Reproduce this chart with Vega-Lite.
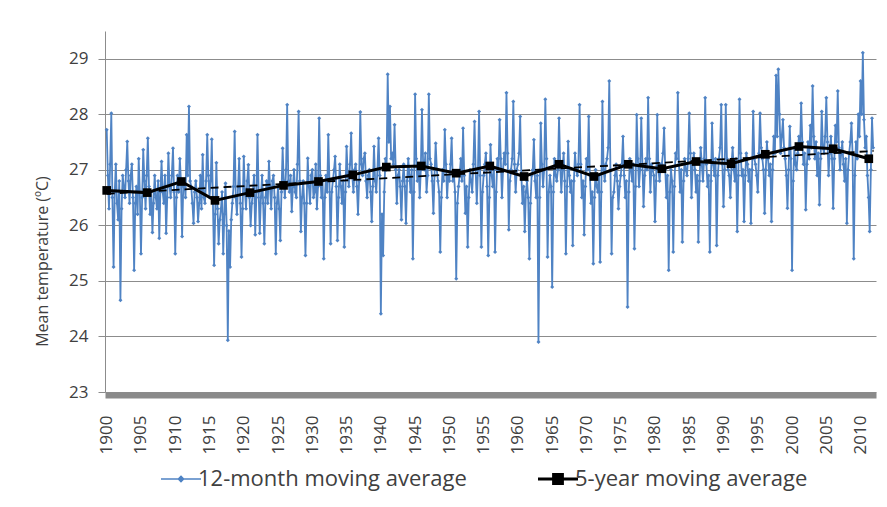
{
"$schema": "https://vega.github.io/schema/vega-lite/v6.json",
"width": 771, "height": 361,
"autosize": {"type": "none"},
"padding": {"left": 105, "top": 31, "right": 11, "bottom": 115},
"background": "white",
"config": {"view": {"stroke": null}, "font": "Open Sans", "axisX": {"labelOverlap": false}},
"datasets": {
"m": [
{"t":1900,"v":27.72},{"t":1900.17,"v":26.9},{"t":1900.33,"v":26.3},{"t":1900.5,"v":27.1},{"t":1900.67,"v":28.02},{"t":1900.83,"v":26.5},
{"t":1901,"v":25.25},{"t":1901.17,"v":26.6},{"t":1901.33,"v":27.1},{"t":1901.5,"v":26.4},{"t":1901.67,"v":26.1},{"t":1901.83,"v":26.8},
{"t":1902,"v":24.65},{"t":1902.17,"v":26.3},{"t":1902.33,"v":26.9},{"t":1902.5,"v":26.7},{"t":1902.67,"v":26.5},{"t":1902.83,"v":27.0},
{"t":1903,"v":27.51},{"t":1903.17,"v":26.8},{"t":1903.33,"v":26.4},{"t":1903.5,"v":26.9},{"t":1903.67,"v":27.1},{"t":1903.83,"v":26.5},
{"t":1904,"v":25.19},{"t":1904.17,"v":26.4},{"t":1904.33,"v":26.7},{"t":1904.5,"v":26.2},{"t":1904.67,"v":27.2},{"t":1904.83,"v":26.6},
{"t":1905,"v":25.49},{"t":1905.17,"v":26.5},{"t":1905.33,"v":27.36},{"t":1905.5,"v":26.8},{"t":1905.67,"v":26.3},{"t":1905.83,"v":26.9},
{"t":1906,"v":27.57},{"t":1906.17,"v":26.7},{"t":1906.33,"v":26.2},{"t":1906.5,"v":26.6},{"t":1906.67,"v":25.87},{"t":1906.83,"v":26.4},
{"t":1907,"v":26.9},{"t":1907.17,"v":26.5},{"t":1907.33,"v":26.3},{"t":1907.5,"v":26.8},{"t":1907.67,"v":25.77},{"t":1907.83,"v":26.6},
{"t":1908,"v":27.15},{"t":1908.17,"v":26.6},{"t":1908.33,"v":26.4},{"t":1908.5,"v":26.9},{"t":1908.67,"v":25.86},{"t":1908.83,"v":26.5},
{"t":1909,"v":27.3},{"t":1909.17,"v":26.7},{"t":1909.33,"v":26.5},{"t":1909.5,"v":26.9},{"t":1909.67,"v":27.39},{"t":1909.83,"v":26.6},
{"t":1910,"v":25.49},{"t":1910.17,"v":26.5},{"t":1910.33,"v":26.9},{"t":1910.5,"v":26.6},{"t":1910.67,"v":27.2},{"t":1910.83,"v":26.8},
{"t":1911,"v":25.8},{"t":1911.17,"v":26.7},{"t":1911.33,"v":26.8},{"t":1911.5,"v":26.5},{"t":1911.67,"v":27.63},{"t":1911.83,"v":26.9},
{"t":1912,"v":28.14},{"t":1912.17,"v":26.8},{"t":1912.33,"v":26.7},{"t":1912.5,"v":26.4},{"t":1912.67,"v":26.04},{"t":1912.83,"v":26.6},
{"t":1913,"v":26.8},{"t":1913.17,"v":26.5},{"t":1913.33,"v":26.07},{"t":1913.5,"v":26.4},{"t":1913.67,"v":26.9},{"t":1913.83,"v":26.3},
{"t":1914,"v":27.27},{"t":1914.17,"v":26.5},{"t":1914.33,"v":26.4},{"t":1914.5,"v":26.8},{"t":1914.67,"v":27.63},{"t":1914.83,"v":26.9},
{"t":1915,"v":26.5},{"t":1915.17,"v":26.8},{"t":1915.33,"v":27.55},{"t":1915.5,"v":26.4},{"t":1915.67,"v":25.28},{"t":1915.83,"v":26.2},
{"t":1916,"v":27.13},{"t":1916.17,"v":26.3},{"t":1916.33,"v":25.67},{"t":1916.5,"v":26.1},{"t":1916.67,"v":26.3},{"t":1916.83,"v":26.6},
{"t":1917,"v":25.49},{"t":1917.17,"v":26.2},{"t":1917.33,"v":26.76},{"t":1917.5,"v":26.0},{"t":1917.67,"v":23.93},{"t":1917.83,"v":25.9},
{"t":1918,"v":25.25},{"t":1918.17,"v":26.1},{"t":1918.33,"v":26.4},{"t":1918.5,"v":26.7},{"t":1918.67,"v":27.69},{"t":1918.83,"v":26.5},
{"t":1919,"v":26.2},{"t":1919.17,"v":26.7},{"t":1919.33,"v":27.2},{"t":1919.5,"v":26.4},{"t":1919.67,"v":25.43},{"t":1919.83,"v":26.3},
{"t":1920,"v":27.24},{"t":1920.17,"v":26.6},{"t":1920.33,"v":26.3},{"t":1920.5,"v":26.8},{"t":1920.67,"v":27.09},{"t":1920.83,"v":26.5},
{"t":1921,"v":26.0},{"t":1921.17,"v":26.4},{"t":1921.33,"v":26.6},{"t":1921.5,"v":26.9},{"t":1921.67,"v":25.83},{"t":1921.83,"v":26.5},
{"t":1922,"v":27.63},{"t":1922.17,"v":26.6},{"t":1922.33,"v":25.86},{"t":1922.5,"v":26.5},{"t":1922.67,"v":26.9},{"t":1922.83,"v":26.4},
{"t":1923,"v":25.67},{"t":1923.17,"v":26.5},{"t":1923.33,"v":26.8},{"t":1923.5,"v":26.4},{"t":1923.67,"v":27.15},{"t":1923.83,"v":26.7},
{"t":1924,"v":26.3},{"t":1924.17,"v":26.8},{"t":1924.33,"v":26.9},{"t":1924.5,"v":26.5},{"t":1924.67,"v":25.49},{"t":1924.83,"v":26.4},
{"t":1925,"v":26.7},{"t":1925.17,"v":26.3},{"t":1925.33,"v":25.73},{"t":1925.5,"v":26.6},{"t":1925.67,"v":27.39},{"t":1925.83,"v":26.8},
{"t":1926,"v":26.5},{"t":1926.17,"v":27.0},{"t":1926.33,"v":28.17},{"t":1926.5,"v":26.8},{"t":1926.67,"v":26.6},{"t":1926.83,"v":26.9},
{"t":1927,"v":26.25},{"t":1927.17,"v":26.7},{"t":1927.33,"v":27.0},{"t":1927.5,"v":26.6},{"t":1927.67,"v":26.5},{"t":1927.83,"v":27.1},
{"t":1928,"v":28.05},{"t":1928.17,"v":26.8},{"t":1928.33,"v":25.89},{"t":1928.5,"v":26.5},{"t":1928.67,"v":26.8},{"t":1928.83,"v":26.4},
{"t":1929,"v":25.46},{"t":1929.17,"v":26.4},{"t":1929.33,"v":27.21},{"t":1929.5,"v":26.7},{"t":1929.67,"v":26.4},{"t":1929.83,"v":26.9},
{"t":1930,"v":27.0},{"t":1930.17,"v":26.5},{"t":1930.33,"v":26.6},{"t":1930.5,"v":27.1},{"t":1930.67,"v":26.3},{"t":1930.83,"v":26.7},
{"t":1931,"v":27.93},{"t":1931.17,"v":26.9},{"t":1931.33,"v":26.5},{"t":1931.5,"v":26.8},{"t":1931.67,"v":25.4},{"t":1931.83,"v":26.5},
{"t":1932,"v":26.9},{"t":1932.17,"v":26.6},{"t":1932.33,"v":27.63},{"t":1932.5,"v":26.8},{"t":1932.67,"v":25.67},{"t":1932.83,"v":26.6},
{"t":1933,"v":26.8},{"t":1933.17,"v":27.0},{"t":1933.33,"v":27.24},{"t":1933.5,"v":26.7},{"t":1933.67,"v":25.73},{"t":1933.83,"v":26.5},
{"t":1934,"v":27.1},{"t":1934.17,"v":26.7},{"t":1934.33,"v":26.4},{"t":1934.5,"v":26.8},{"t":1934.67,"v":25.61},{"t":1934.83,"v":26.6},
{"t":1935,"v":27.42},{"t":1935.17,"v":26.9},{"t":1935.33,"v":26.7},{"t":1935.5,"v":27.1},{"t":1935.67,"v":27.66},{"t":1935.83,"v":26.9},
{"t":1936,"v":26.6},{"t":1936.17,"v":27.0},{"t":1936.33,"v":27.1},{"t":1936.5,"v":26.7},{"t":1936.67,"v":26.2},{"t":1936.83,"v":26.8},
{"t":1937,"v":28.04},{"t":1937.17,"v":27.1},{"t":1937.33,"v":26.9},{"t":1937.5,"v":27.2},{"t":1937.67,"v":27.3},{"t":1937.83,"v":26.8},
{"t":1938,"v":26.5},{"t":1938.17,"v":26.9},{"t":1938.33,"v":27.0},{"t":1938.5,"v":26.6},{"t":1938.67,"v":26.07},{"t":1938.83,"v":26.7},
{"t":1939,"v":27.42},{"t":1939.17,"v":26.8},{"t":1939.33,"v":26.6},{"t":1939.5,"v":27.0},{"t":1939.67,"v":27.57},{"t":1939.83,"v":26.9},
{"t":1940,"v":24.41},{"t":1940.17,"v":26.2},{"t":1940.33,"v":25.46},{"t":1940.5,"v":26.6},{"t":1940.67,"v":27.2},{"t":1940.83,"v":27.0},
{"t":1941,"v":28.72},{"t":1941.17,"v":27.5},{"t":1941.33,"v":28.14},{"t":1941.5,"v":27.2},{"t":1941.67,"v":27.3},{"t":1941.83,"v":27.1},
{"t":1942,"v":27.81},{"t":1942.17,"v":27.0},{"t":1942.33,"v":26.4},{"t":1942.5,"v":26.9},{"t":1942.67,"v":27.0},{"t":1942.83,"v":26.7},
{"t":1943,"v":26.1},{"t":1943.17,"v":26.8},{"t":1943.33,"v":27.1},{"t":1943.5,"v":26.7},{"t":1943.67,"v":26.04},{"t":1943.83,"v":26.8},
{"t":1944,"v":27.2},{"t":1944.17,"v":26.9},{"t":1944.33,"v":26.6},{"t":1944.5,"v":27.0},{"t":1944.67,"v":25.4},{"t":1944.83,"v":26.6},
{"t":1945,"v":28.36},{"t":1945.17,"v":27.2},{"t":1945.33,"v":26.8},{"t":1945.5,"v":27.1},{"t":1945.67,"v":26.5},{"t":1945.83,"v":27.0},
{"t":1946,"v":28.08},{"t":1946.17,"v":27.1},{"t":1946.33,"v":27.0},{"t":1946.5,"v":27.3},{"t":1946.67,"v":26.6},{"t":1946.83,"v":26.9},
{"t":1947,"v":28.36},{"t":1947.17,"v":27.2},{"t":1947.33,"v":27.1},{"t":1947.5,"v":26.8},{"t":1947.67,"v":26.22},{"t":1947.83,"v":26.9},
{"t":1948,"v":27.48},{"t":1948.17,"v":27.0},{"t":1948.33,"v":26.8},{"t":1948.5,"v":26.6},{"t":1948.67,"v":25.52},{"t":1948.83,"v":26.5},
{"t":1949,"v":27.0},{"t":1949.17,"v":26.8},{"t":1949.33,"v":27.72},{"t":1949.5,"v":27.1},{"t":1949.67,"v":26.5},{"t":1949.83,"v":26.9},
{"t":1950,"v":26.8},{"t":1950.17,"v":27.1},{"t":1950.33,"v":27.57},{"t":1950.5,"v":26.8},{"t":1950.67,"v":26.9},{"t":1950.83,"v":26.6},
{"t":1951,"v":25.04},{"t":1951.17,"v":26.4},{"t":1951.33,"v":26.7},{"t":1951.5,"v":26.9},{"t":1951.67,"v":27.2},{"t":1951.83,"v":26.8},
{"t":1952,"v":27.75},{"t":1952.17,"v":26.9},{"t":1952.33,"v":26.22},{"t":1952.5,"v":26.7},{"t":1952.67,"v":25.61},{"t":1952.83,"v":26.5},
{"t":1953,"v":27.0},{"t":1953.17,"v":26.8},{"t":1953.33,"v":26.6},{"t":1953.5,"v":27.1},{"t":1953.67,"v":27.87},{"t":1953.83,"v":27.0},
{"t":1954,"v":26.4},{"t":1954.17,"v":27.0},{"t":1954.33,"v":28.05},{"t":1954.5,"v":26.9},{"t":1954.67,"v":25.61},{"t":1954.83,"v":26.6},
{"t":1955,"v":26.9},{"t":1955.17,"v":27.1},{"t":1955.33,"v":27.3},{"t":1955.5,"v":26.7},{"t":1955.67,"v":25.46},{"t":1955.83,"v":26.5},
{"t":1956,"v":27.45},{"t":1956.17,"v":26.9},{"t":1956.33,"v":26.7},{"t":1956.5,"v":27.0},{"t":1956.67,"v":25.52},{"t":1956.83,"v":26.6},
{"t":1957,"v":27.2},{"t":1957.17,"v":27.0},{"t":1957.33,"v":27.9},{"t":1957.5,"v":27.2},{"t":1957.67,"v":26.5},{"t":1957.83,"v":27.0},
{"t":1958,"v":27.3},{"t":1958.17,"v":27.1},{"t":1958.33,"v":28.39},{"t":1958.5,"v":27.3},{"t":1958.67,"v":25.92},{"t":1958.83,"v":26.8},
{"t":1959,"v":27.0},{"t":1959.17,"v":27.2},{"t":1959.33,"v":28.23},{"t":1959.5,"v":27.1},{"t":1959.67,"v":26.6},{"t":1959.83,"v":27.0},
{"t":1960,"v":27.1},{"t":1960.17,"v":27.3},{"t":1960.33,"v":27.96},{"t":1960.5,"v":26.9},{"t":1960.67,"v":26.4},{"t":1960.83,"v":26.7},
{"t":1961,"v":25.89},{"t":1961.17,"v":26.6},{"t":1961.33,"v":26.8},{"t":1961.5,"v":26.5},{"t":1961.67,"v":25.4},{"t":1961.83,"v":26.4},
{"t":1962,"v":26.9},{"t":1962.17,"v":27.0},{"t":1962.33,"v":27.54},{"t":1962.5,"v":26.8},{"t":1962.67,"v":26.5},{"t":1962.83,"v":26.9},
{"t":1963,"v":23.9},{"t":1963.17,"v":26.5},{"t":1963.33,"v":27.84},{"t":1963.5,"v":27.1},{"t":1963.67,"v":26.7},{"t":1963.83,"v":27.0},
{"t":1964,"v":28.27},{"t":1964.17,"v":27.2},{"t":1964.33,"v":25.43},{"t":1964.5,"v":26.6},{"t":1964.67,"v":26.9},{"t":1964.83,"v":26.7},
{"t":1965,"v":24.89},{"t":1965.17,"v":26.6},{"t":1965.33,"v":27.2},{"t":1965.5,"v":26.9},{"t":1965.67,"v":26.8},{"t":1965.83,"v":27.0},
{"t":1966,"v":27.93},{"t":1966.17,"v":27.1},{"t":1966.33,"v":26.6},{"t":1966.5,"v":27.0},{"t":1966.67,"v":27.3},{"t":1966.83,"v":26.8},
{"t":1967,"v":25.49},{"t":1967.17,"v":26.7},{"t":1967.33,"v":27.51},{"t":1967.5,"v":26.9},{"t":1967.67,"v":26.6},{"t":1967.83,"v":26.8},
{"t":1968,"v":25.64},{"t":1968.17,"v":26.8},{"t":1968.33,"v":27.3},{"t":1968.5,"v":27.0},{"t":1968.67,"v":26.9},{"t":1968.83,"v":27.1},
{"t":1969,"v":28.17},{"t":1969.17,"v":27.1},{"t":1969.33,"v":26.5},{"t":1969.5,"v":26.8},{"t":1969.67,"v":25.83},{"t":1969.83,"v":26.7},
{"t":1970,"v":27.2},{"t":1970.17,"v":27.0},{"t":1970.33,"v":27.96},{"t":1970.5,"v":26.9},{"t":1970.67,"v":26.4},{"t":1970.83,"v":26.6},
{"t":1971,"v":25.31},{"t":1971.17,"v":26.5},{"t":1971.33,"v":27.0},{"t":1971.5,"v":26.7},{"t":1971.67,"v":26.6},{"t":1971.83,"v":26.9},
{"t":1972,"v":25.34},{"t":1972.17,"v":26.6},{"t":1972.33,"v":28.23},{"t":1972.5,"v":27.0},{"t":1972.67,"v":26.8},{"t":1972.83,"v":27.1},
{"t":1973,"v":27.2},{"t":1973.17,"v":27.4},{"t":1973.33,"v":28.6},{"t":1973.5,"v":27.0},{"t":1973.67,"v":25.49},{"t":1973.83,"v":26.5},
{"t":1974,"v":26.6},{"t":1974.17,"v":26.9},{"t":1974.33,"v":27.1},{"t":1974.5,"v":26.8},{"t":1974.67,"v":26.3},{"t":1974.83,"v":26.7},
{"t":1975,"v":26.9},{"t":1975.17,"v":27.1},{"t":1975.33,"v":27.6},{"t":1975.5,"v":26.9},{"t":1975.67,"v":26.5},{"t":1975.83,"v":26.8},
{"t":1976,"v":24.53},{"t":1976.17,"v":26.6},{"t":1976.33,"v":27.2},{"t":1976.5,"v":27.0},{"t":1976.67,"v":26.8},{"t":1976.83,"v":27.1},
{"t":1977,"v":25.58},{"t":1977.17,"v":26.7},{"t":1977.33,"v":27.99},{"t":1977.5,"v":27.2},{"t":1977.67,"v":26.7},{"t":1977.83,"v":27.0},
{"t":1978,"v":27.93},{"t":1978.17,"v":27.1},{"t":1978.33,"v":26.34},{"t":1978.5,"v":26.9},{"t":1978.67,"v":27.2},{"t":1978.83,"v":27.0},
{"t":1979,"v":28.3},{"t":1979.17,"v":27.2},{"t":1979.33,"v":26.6},{"t":1979.5,"v":27.1},{"t":1979.67,"v":27.0},{"t":1979.83,"v":26.9},
{"t":1980,"v":26.07},{"t":1980.17,"v":26.8},{"t":1980.33,"v":27.99},{"t":1980.5,"v":27.0},{"t":1980.67,"v":26.8},{"t":1980.83,"v":27.1},
{"t":1981,"v":27.1},{"t":1981.17,"v":27.3},{"t":1981.33,"v":27.75},{"t":1981.5,"v":27.0},{"t":1981.67,"v":26.5},{"t":1981.83,"v":26.9},
{"t":1982,"v":25.19},{"t":1982.17,"v":26.6},{"t":1982.33,"v":27.0},{"t":1982.5,"v":26.8},{"t":1982.67,"v":25.52},{"t":1982.83,"v":26.7},
{"t":1983,"v":27.3},{"t":1983.17,"v":27.2},{"t":1983.33,"v":28.39},{"t":1983.5,"v":27.1},{"t":1983.67,"v":26.6},{"t":1983.83,"v":27.0},
{"t":1984,"v":25.7},{"t":1984.17,"v":26.8},{"t":1984.33,"v":27.2},{"t":1984.5,"v":27.0},{"t":1984.67,"v":26.9},{"t":1984.83,"v":27.2},
{"t":1985,"v":28.02},{"t":1985.17,"v":27.3},{"t":1985.33,"v":26.5},{"t":1985.5,"v":27.1},{"t":1985.67,"v":27.3},{"t":1985.83,"v":27.0},
{"t":1986,"v":26.6},{"t":1986.17,"v":26.9},{"t":1986.33,"v":25.7},{"t":1986.5,"v":26.8},{"t":1986.67,"v":27.4},{"t":1986.83,"v":27.1},
{"t":1987,"v":26.8},{"t":1987.17,"v":27.2},{"t":1987.33,"v":28.3},{"t":1987.5,"v":27.1},{"t":1987.67,"v":26.7},{"t":1987.83,"v":26.9},
{"t":1988,"v":25.52},{"t":1988.17,"v":26.8},{"t":1988.33,"v":27.84},{"t":1988.5,"v":27.1},{"t":1988.67,"v":26.9},{"t":1988.83,"v":27.2},
{"t":1989,"v":25.64},{"t":1989.17,"v":26.9},{"t":1989.33,"v":27.2},{"t":1989.5,"v":27.4},{"t":1989.67,"v":28.17},{"t":1989.83,"v":27.1},
{"t":1990,"v":26.34},{"t":1990.17,"v":27.0},{"t":1990.33,"v":28.17},{"t":1990.5,"v":27.2},{"t":1990.67,"v":27.0},{"t":1990.83,"v":26.9},
{"t":1991,"v":26.5},{"t":1991.17,"v":27.1},{"t":1991.33,"v":27.4},{"t":1991.5,"v":27.0},{"t":1991.67,"v":26.8},{"t":1991.83,"v":27.2},
{"t":1992,"v":25.89},{"t":1992.17,"v":26.9},{"t":1992.33,"v":28.27},{"t":1992.5,"v":27.3},{"t":1992.67,"v":26.9},{"t":1992.83,"v":27.0},
{"t":1993,"v":26.07},{"t":1993.17,"v":26.9},{"t":1993.33,"v":27.3},{"t":1993.5,"v":27.1},{"t":1993.67,"v":26.8},{"t":1993.83,"v":27.0},
{"t":1994,"v":26.04},{"t":1994.17,"v":27.0},{"t":1994.33,"v":28.05},{"t":1994.5,"v":27.2},{"t":1994.67,"v":27.1},{"t":1994.83,"v":26.9},
{"t":1995,"v":26.6},{"t":1995.17,"v":27.3},{"t":1995.33,"v":28.02},{"t":1995.5,"v":27.4},{"t":1995.67,"v":27.2},{"t":1995.83,"v":27.0},
{"t":1996,"v":26.22},{"t":1996.17,"v":27.0},{"t":1996.33,"v":27.5},{"t":1996.5,"v":27.2},{"t":1996.67,"v":26.9},{"t":1996.83,"v":27.1},
{"t":1997,"v":26.07},{"t":1997.17,"v":27.0},{"t":1997.33,"v":27.6},{"t":1997.5,"v":27.3},{"t":1997.67,"v":28.7},{"t":1997.83,"v":27.6},
{"t":1998,"v":28.81},{"t":1998.17,"v":28.0},{"t":1998.33,"v":27.3},{"t":1998.5,"v":27.6},{"t":1998.67,"v":27.9},{"t":1998.83,"v":27.4},
{"t":1999,"v":27.2},{"t":1999.17,"v":26.9},{"t":1999.33,"v":26.31},{"t":1999.5,"v":27.0},{"t":1999.67,"v":27.78},{"t":1999.83,"v":27.2},
{"t":2000,"v":25.19},{"t":2000.17,"v":26.8},{"t":2000.33,"v":27.4},{"t":2000.5,"v":27.1},{"t":2000.67,"v":27.0},{"t":2000.83,"v":27.3},
{"t":2001,"v":27.6},{"t":2001.17,"v":27.4},{"t":2001.33,"v":28.2},{"t":2001.5,"v":27.5},{"t":2001.67,"v":27.1},{"t":2001.83,"v":27.3},
{"t":2002,"v":26.28},{"t":2002.17,"v":27.1},{"t":2002.33,"v":27.5},{"t":2002.5,"v":27.2},{"t":2002.67,"v":27.8},{"t":2002.83,"v":27.4},
{"t":2003,"v":28.51},{"t":2003.17,"v":27.6},{"t":2003.33,"v":27.2},{"t":2003.5,"v":27.5},{"t":2003.67,"v":26.9},{"t":2003.83,"v":27.3},
{"t":2004,"v":26.37},{"t":2004.17,"v":27.2},{"t":2004.33,"v":28.05},{"t":2004.5,"v":27.4},{"t":2004.67,"v":27.3},{"t":2004.83,"v":27.6},
{"t":2005,"v":28.3},{"t":2005.17,"v":27.5},{"t":2005.33,"v":26.9},{"t":2005.5,"v":27.3},{"t":2005.67,"v":27.6},{"t":2005.83,"v":27.2},
{"t":2006,"v":26.31},{"t":2006.17,"v":27.2},{"t":2006.33,"v":27.8},{"t":2006.5,"v":27.5},{"t":2006.67,"v":28.42},{"t":2006.83,"v":27.4},
{"t":2007,"v":27.0},{"t":2007.17,"v":27.3},{"t":2007.33,"v":27.5},{"t":2007.5,"v":27.1},{"t":2007.67,"v":26.8},{"t":2007.83,"v":27.2},
{"t":2008,"v":26.04},{"t":2008.17,"v":27.0},{"t":2008.33,"v":27.3},{"t":2008.5,"v":27.5},{"t":2008.67,"v":27.84},{"t":2008.83,"v":27.3},
{"t":2009,"v":25.4},{"t":2009.17,"v":26.9},{"t":2009.33,"v":27.5},{"t":2009.5,"v":27.2},{"t":2009.67,"v":28.0},{"t":2009.83,"v":27.6},
{"t":2010,"v":28.6},{"t":2010.17,"v":28.0},{"t":2010.33,"v":29.11},{"t":2010.5,"v":27.9},{"t":2010.67,"v":27.4},{"t":2010.83,"v":27.6},
{"t":2011,"v":26.9},{"t":2011.17,"v":26.5},{"t":2011.33,"v":25.89},{"t":2011.5,"v":27.0},{"t":2011.67,"v":27.93},{"t":2011.83,"v":27.4}
],
"f": [
{"t":1900.0,"v":26.63},{"t":1905.9,"v":26.59},{"t":1910.9,"v":26.79},{"t":1915.8,"v":26.45},
{"t":1920.9,"v":26.59},{"t":1925.8,"v":26.72},{"t":1930.9,"v":26.79},{"t":1935.9,"v":26.91},
{"t":1940.8,"v":27.05},{"t":1945.9,"v":27.07},{"t":1951.0,"v":26.94},{"t":1955.9,"v":27.07},
{"t":1960.9,"v":26.88},{"t":1966.0,"v":27.1},{"t":1971.1,"v":26.88},{"t":1976.1,"v":27.1},
{"t":1981.0,"v":27.02},{"t":1986.0,"v":27.15},{"t":1991.1,"v":27.11},{"t":1996.1,"v":27.28},
{"t":2001.0,"v":27.42},{"t":2006.0,"v":27.38},{"t":2011.2,"v":27.2}
],
"tr": [{"t":1900,"v":26.57},{"t":2011.9,"v":27.34}]
},
"encoding": {
"x": {"field": "t", "type": "quantitative",
"scale": {"domain": [1899.75, 2012.25], "nice": false, "zero": false},
"axis": {"values": [1900,1905,1910,1915,1920,1925,1930,1935,1940,1945,1950,1955,1960,1965,1970,1975,1980,1985,1990,1995,2000,2005,2010],
"format": "d", "labelAngle": 270, "labelFontSize": 17, "labelColor": "#404040", "labelFont": "Open Sans",
"labelPadding": 20, "ticks": false, "tickSize": 0, "domainColor": "#8a8a8a", "domainWidth": 6,
"offset": 3, "grid": false, "title": null, "labelOverlap": false, "labelFlush": false}},
"y": {"field": "v", "type": "quantitative",
"scale": {"domain": [23, 29.5], "nice": false, "zero": false},
"axis": {"values": [23,24,25,26,27,28,29], "format": "d", "title": "Mean temperature (ºC)",
"titleFontSize": 16, "titleFont": "Open Sans", "titleFontWeight": "normal", "titleColor": "#404040",
"titleX": -63, "titleY": 230, "titleAngle": 270, "titleAlign": "center", "titleBaseline": "middle",
"labelFontSize": 17, "labelColor": "#404040", "labelFont": "Open Sans", "labelPadding": 10,
"tickSize": 7, "tickColor": "#8c8c8c", "domainColor": "#8c8c8c", "gridColor": "#8c8c8c", "grid": true}}
},
"layer": [
{
"data": {"name": "m"},
"mark": {"type": "line", "strokeWidth": 1.8, "point": {"filled": true, "shape": "diamond", "size": 16}},
"encoding": {
"color": {"datum": "12-month moving average", "type": "nominal",
"scale": {"domain": ["12-month moving average", "5-year moving average"], "range": ["#4f83c4", "#000000"]},
"legend": {"orient": "none", "legendX": 65, "legendY": 437, "direction": "horizontal", "title": null,
"labelFontSize": 22, "labelColor": "#404040", "labelFont": "Open Sans", "symbolSize": 1600,
"labelOffset": 6, "columnPadding": 65, "padding": 0, "labelLimit": 400,
"encode": {"symbols": {"update": {
"shape": {"signal": "datum.value === '5-year moving average' ? 'M-1,0H1M-0.22,-0.22H0.22V0.22H-0.22Z' : 'M-1,0H1M0,-0.13L0.13,0L0,0.13L-0.13,0Z'"},
"strokeWidth": {"signal": "datum.value === '5-year moving average' ? 3 : 1.5"},
"fill": {"scale": "color", "field": "value"},
"stroke": {"scale": "color", "field": "value"},
"opacity": {"value": 1}}}}}}
}
},
{
"data": {"name": "tr"},
"mark": {"type": "line", "color": "#000000", "strokeWidth": 1.8, "strokeDash": [8, 5]}
},
{
"data": {"name": "f"},
"mark": {"type": "line", "strokeWidth": 3, "point": {"filled": true, "shape": "square", "size": 75}},
"encoding": {"color": {"datum": "5-year moving average", "type": "nominal"}}
}
]
}
